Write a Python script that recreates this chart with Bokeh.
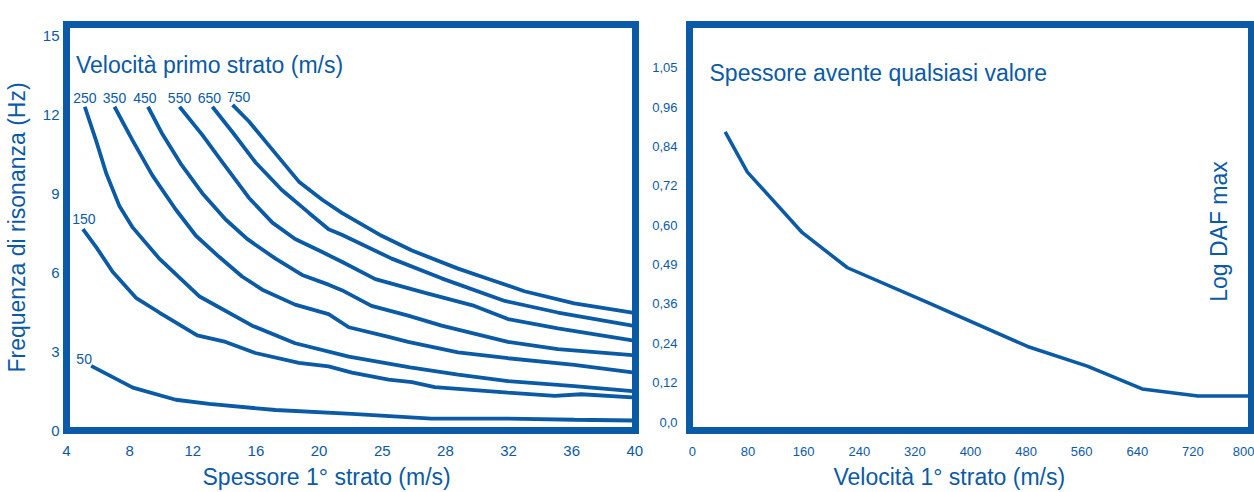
import math
from bokeh.plotting import figure
from bokeh.models import Range1d, FixedTicker, Label, ColumnDataSource, Title
from bokeh.layouts import row
from bokeh.embed import file_html
from bokeh.resources import INLINE
from bokeh.core.properties import value

BLUE = "#0b5aa6"
FONT = "Liberation Sans"

# ---------------- left chart data ----------------
# x axis: evenly spaced tick positions 0..9 carrying these labels (m)
thick_tick_labels = ["4", "8", "12", "16", "20", "25", "28", "32", "36", "40"]
freq_ticks = [0, 3, 6, 9, 12, 15]

curve_names = ["50", "150", "250", "350", "450", "550", "650", "750"]

# positions along the thickness axis (tick index units) and resonance frequency (Hz)
x_50 = [0.39, 1.05, 1.73, 2.26, 3.31, 4.52, 5.78, 6.99, 8.04, 8.96]
f_50 = [2.46, 1.63, 1.17, 1.01, 0.78, 0.63, 0.45, 0.45, 0.41, 0.38]

x_150 = [0.26, 0.47, 0.73, 1.10, 1.47, 2.07, 2.52, 2.99, 3.68, 4.15, 4.52, 5.10, 5.47, 5.83, 6.99, 7.73, 8.15, 8.96]
f_150 = [7.66, 6.98, 6.04, 5.05, 4.49, 3.62, 3.37, 2.95, 2.57, 2.44, 2.20, 1.94, 1.84, 1.65, 1.44, 1.32, 1.38, 1.26]

x_250 = [0.29, 0.47, 0.63, 0.84, 1.05, 1.47, 2.10, 2.94, 3.62, 4.47, 5.44, 6.20, 6.99, 8.04, 8.96]
f_250 = [12.32, 11.02, 9.78, 8.53, 7.72, 6.54, 5.11, 3.99, 3.32, 2.81, 2.40, 2.13, 1.88, 1.69, 1.50]

x_350 = [0.76, 1.05, 1.36, 1.73, 2.05, 2.42, 2.78, 3.10, 3.62, 4.15, 4.47, 5.10, 5.41, 6.20, 6.99, 8.04, 8.96]
f_350 = [12.32, 11.02, 9.71, 8.41, 7.41, 6.60, 5.86, 5.36, 4.79, 4.43, 3.93, 3.56, 3.37, 2.97, 2.75, 2.50, 2.21]

x_450 = [1.29, 1.52, 1.81, 2.15, 2.52, 2.86, 3.31, 3.73, 4.15, 4.36, 4.83, 5.41, 5.94, 6.99, 7.78, 8.96]
f_450 = [12.32, 11.27, 10.15, 9.03, 8.03, 7.29, 6.54, 5.92, 5.55, 5.34, 4.74, 4.37, 3.99, 3.37, 3.10, 2.87]

x_550 = [1.79, 2.15, 2.47, 2.89, 3.26, 3.62, 4.05, 4.36, 4.89, 5.68, 6.46, 6.99, 7.78, 8.96]
f_550 = [12.32, 11.25, 10.20, 8.85, 7.91, 7.29, 6.79, 6.42, 5.76, 5.24, 4.74, 4.24, 3.89, 3.43]

x_650 = [2.31, 2.63, 2.99, 3.41, 3.84, 4.15, 4.36, 5.15, 5.94, 6.94, 7.78, 8.96]
f_650 = [12.32, 11.35, 10.21, 9.15, 8.28, 7.66, 7.45, 6.54, 5.79, 4.93, 4.49, 3.99]

x_750 = [2.63, 2.89, 3.21, 3.68, 4.05, 4.36, 4.99, 5.47, 6.20, 6.73, 7.25, 8.04, 8.96]
f_750 = [12.39, 11.76, 10.83, 9.47, 8.78, 8.28, 7.41, 6.85, 6.16, 5.73, 5.30, 4.84, 4.49]

curves_x = [x_50, x_150, x_250, x_350, x_450, x_550, x_650, x_750]
curves_f = [f_50, f_150, f_250, f_350, f_450, f_550, f_650, f_750]

# ---------------- right chart data ----------------
vel_ticks = [0, 80, 160, 240, 320, 400, 480, 560, 640, 720, 800]
daf_tick_labels = ["0,0", "0,12", "0,24", "0,36", "0,49", "0,60", "0,72", "0,84", "0,96", "1,05"]
vel = [47, 79, 158, 223, 338, 482, 568, 647, 727, 800]
daf_pos = [7.37, 6.35, 4.81, 3.92, 3.04, 1.92, 1.42, 0.84, 0.66, 0.66]  # in tick-position units


def style_axes(p, size, x_standoff, y_standoff):
    for ax in list(p.xaxis) + list(p.yaxis):
        ax.axis_line_color = None
        ax.major_tick_line_color = None
        ax.minor_tick_line_color = None
        ax.major_tick_out = 0
        ax.major_tick_in = 0
        ax.minor_tick_out = 0
        ax.minor_tick_in = 0
        ax.major_label_text_color = BLUE
        ax.major_label_text_font = FONT
        ax.major_label_text_font_size = size
    for ax in p.xaxis:
        ax.major_label_standoff = x_standoff
    for ax in p.yaxis:
        ax.major_label_standoff = y_standoff


def frame_style(p):
    p.grid.visible = False
    p.outline_line_color = BLUE
    p.outline_line_width = 7
    p.outline_line_alpha = 1.0
    p.outline_line_join = "miter"
    p.background_fill_color = "white"
    p.border_fill_color = "white"


def below_title(text, offset):
    return Title(text=text, align="left", offset=offset, standoff=6,
                 text_font=FONT, text_font_size="23px", text_font_style="normal",
                 text_line_height=0.8, text_color=BLUE)


# ---------------- left figure ----------------
p1 = figure(width=648, height=492, x_range=Range1d(0, 9.01), y_range=Range1d(0, 15.45),
            output_backend="svg", toolbar_location=None,
            min_border_left=64, min_border_right=13, min_border_top=22, min_border_bottom=58)
frame_style(p1)
p1.xaxis.ticker = FixedTicker(ticks=list(range(len(thick_tick_labels))))
p1.xaxis.major_label_overrides = {i: s for i, s in enumerate(thick_tick_labels)}
p1.yaxis.ticker = FixedTicker(ticks=freq_ticks)
style_axes(p1, "15px", 15, 7)
p1.yaxis.axis_label = "Frequenza di risonanza (Hz)"
p1.yaxis.axis_label_text_font = FONT
p1.yaxis.axis_label_text_font_size = "23px"
p1.yaxis.axis_label_text_font_style = "normal"
p1.yaxis.axis_label_text_color = BLUE
p1.yaxis.axis_label_standoff = 10

for xs, fs in zip(curves_x, curves_f):
    p1.line(xs, fs, line_color=BLUE, line_width=3.8)

label_dx = [-7, 1, 0, 0, -3, 0, -3, 6]
label_dy = [-7, -10, -9, -9, -9, -9, -9, -8]
lab_src = ColumnDataSource(dict(
    x=[c[0] for c in curves_x], y=[c[0] for c in curves_f], text=curve_names,
    dx=label_dx, dy=label_dy))
p1.text(x="x", y="y", text="text", x_offset="dx", y_offset="dy", source=lab_src,
        text_font=value(FONT), text_font_size="14px", text_color=BLUE,
        text_align="center", text_baseline="middle")

p1.add_layout(Label(x=0.15, y=13.92, text="Velocità primo strato (m/s)", text_font=FONT,
                    text_font_size="23px", text_color=BLUE, text_baseline="alphabetic"))
p1.add_layout(below_title("Spessore 1° strato (m/s)", 136), "below")

# ---------------- right figure ----------------
p2 = figure(width=606, height=492, x_range=Range1d(-4.3, 804.3), y_range=Range1d(-0.215, 10.1),
            output_backend="svg", toolbar_location=None,
            min_border_left=41, min_border_right=3, min_border_top=24, min_border_bottom=60)
frame_style(p2)
p2.xaxis.ticker = FixedTicker(ticks=vel_ticks)
p2.yaxis.ticker = FixedTicker(ticks=list(range(len(daf_tick_labels))))
p2.yaxis.major_label_overrides = {i: s for i, s in enumerate(daf_tick_labels)}
style_axes(p2, "13px", 16, 12)

p2.line(vel, daf_pos, line_color=BLUE, line_width=3.5)

p2.add_layout(Label(x=24.5, y=8.87, text="Spessore avente qualsiasi valore", text_font=FONT,
                    text_font_size="23px", text_color=BLUE, text_baseline="alphabetic"))
p2.add_layout(Label(x=757, y=4.84, text="Log DAF max", text_font=FONT,
                    text_font_size="23px", text_color=BLUE, angle=math.pi / 2,
                    text_align="center", text_baseline="middle"))
p2.add_layout(below_title("Velocità 1° strato (m/s)", 144), "below")

layout = row(p1, p2)
open("out.html", "w").write(file_html(layout, INLINE))
